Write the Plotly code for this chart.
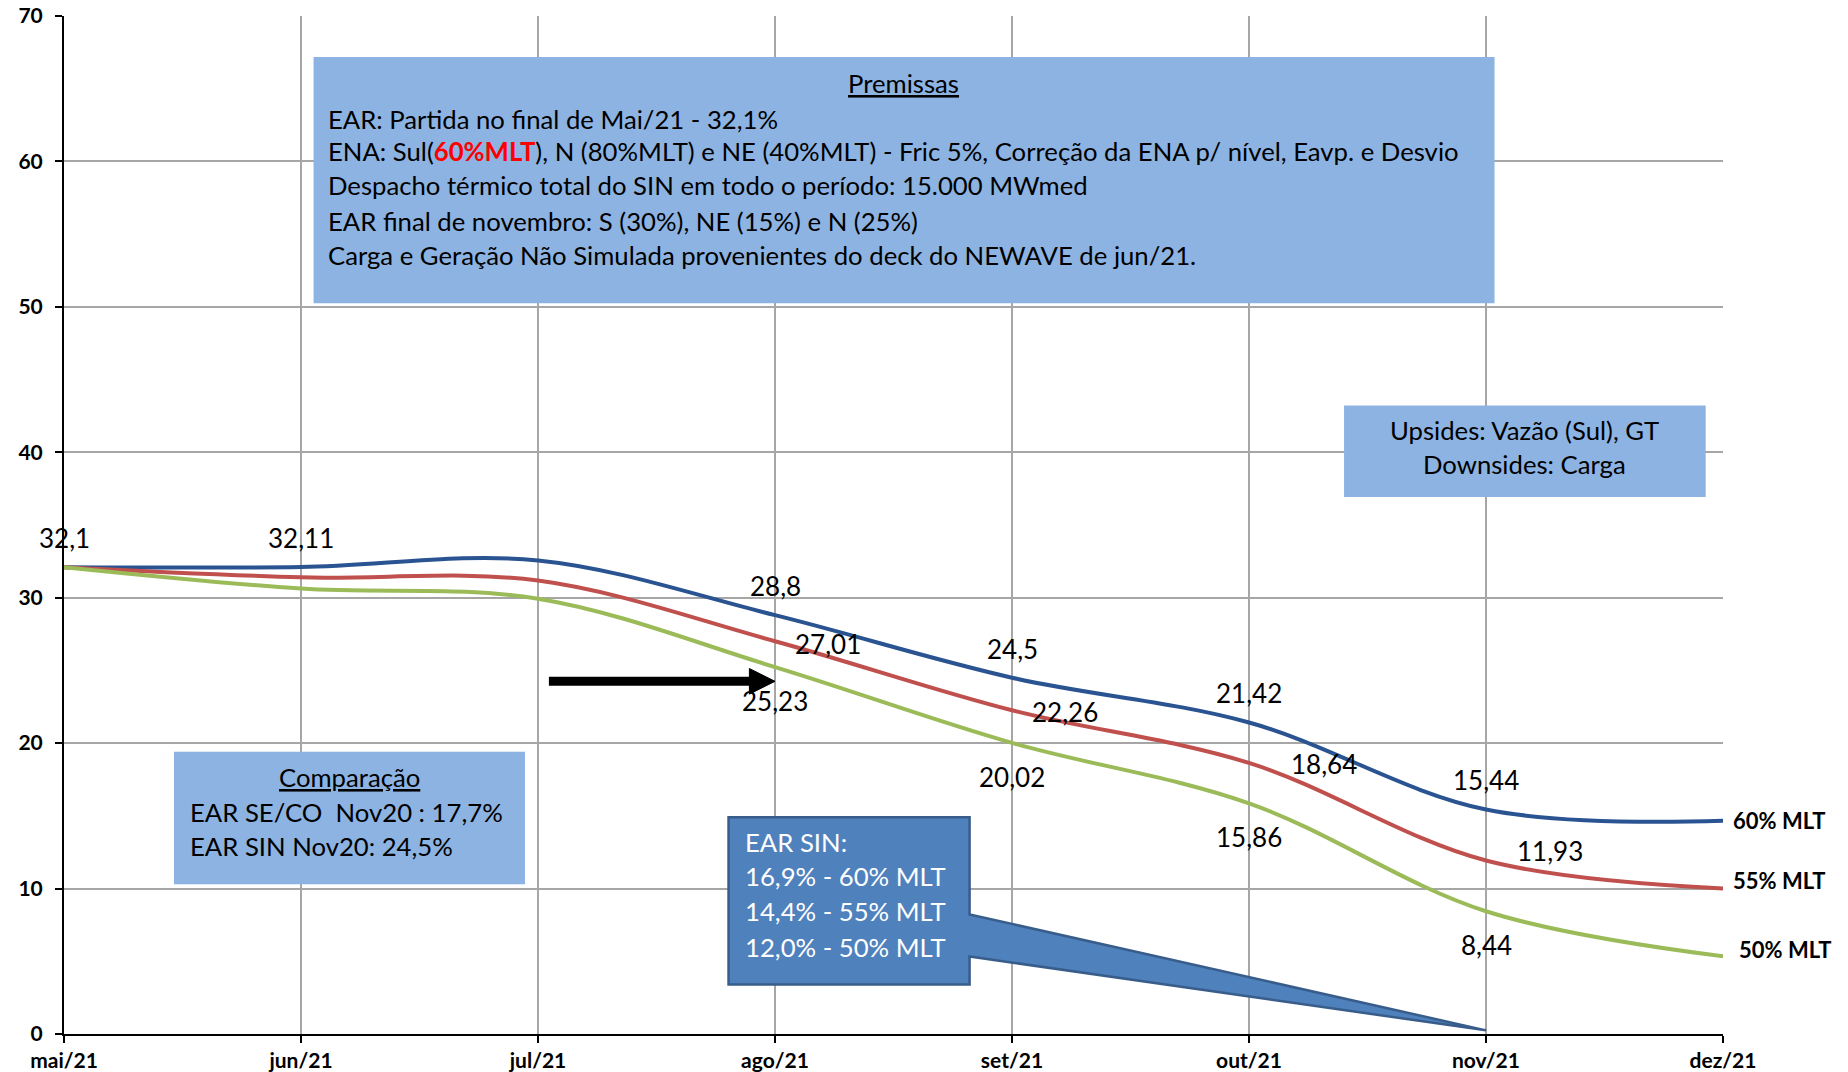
import plotly.graph_objects as go

# ---------------- data ----------------
months = ["mai/21", "jun/21", "jul/21", "ago/21", "set/21", "out/21", "nov/21", "dez/21"]
ear_60 = [32.1, 32.11, 32.56, 28.8, 24.5, 21.42, 15.44, 14.66]
ear_55 = [32.1, 31.4, 31.18, 27.01, 22.26, 18.64, 11.93, 10.01]
ear_50 = [32.1, 30.63, 29.93, 25.23, 20.02, 15.86, 8.44, 5.34]
series_names = ["60% MLT", "55% MLT", "50% MLT"]
y_ticks = [0, 10, 20, 30, 40, 50, 60, 70]

# which points carry a data label
label_idx_60 = [0, 1, 3, 4, 5, 6]
label_idx_55 = [3, 4, 5, 6]
label_idx_50 = [3, 4, 5, 6]

premissas_title = "Premissas"
premissas_lines = [
    "EAR: Partida no final de Mai/21 - 32,1%",
    "ENA: Sul(<span style='color:#FF0000'><b>60%MLT</b></span>), N (80%MLT) e NE (40%MLT) - Fric 5%, Correção da ENA p/ nível, Eavp. e Desvio",
    "Despacho térmico total do SIN em todo o período: 15.000 MWmed",
    "EAR final de novembro: S (30%), NE (15%) e N (25%)",
    "Carga e Geração Não Simulada provenientes do deck do NEWAVE de jun/21.",
]
updown_lines = ["Upsides: Vazão (Sul), GT", "Downsides: Carga"]
comp_title = "Comparação"
comp_lines = ["EAR SE/CO\u00a0 Nov20 : 17,7%", "EAR SIN Nov20: 24,5%"]
earsin_lines = ["EAR SIN:", "16,9% - 60% MLT", "14,4% - 55% MLT", "12,0% - 50% MLT"]

# ---------------- style ----------------
C60, C55, C50 = "#2A5391", "#C0504D", "#9BBB59"
BOX = "#8DB3E2"
CALL_FILL, CALL_LINE = "#4F81BD", "#385D8A"
FONT = "Lato"
FS = 25.7
FS_LBL = 26
GRID = "#A6A6A6"

x = list(range(len(months)))
fig = go.Figure()
for ys, col, name in [(ear_60, C60, series_names[0]), (ear_55, C55, series_names[1]), (ear_50, C50, series_names[2])]:
    fig.add_trace(go.Scatter(x=x, y=ys, mode="lines", name=name,
                             line=dict(color=col, width=4, shape="spline", smoothing=1),
                             cliponaxis=False, hoverinfo="skip", showlegend=False))

ann = []
def fmt(v):
    return ("%g" % v).replace(".", ",")

lbl_font = dict(family=FONT, size=FS_LBL, color="black")
for i in label_idx_60:
    ann.append(dict(x=x[i], y=ear_60[i], text=fmt(ear_60[i]), showarrow=False,
                    xanchor="center", yanchor="middle", yshift=29, font=lbl_font))
red_dx = {3: 18, 4: 18, 5: 40, 6: 29}
red_dy = {3: -3, 4: -2, 5: -1, 6: 10}
for i in label_idx_55:
    ann.append(dict(x=x[i], y=ear_55[i], text=fmt(ear_55[i]), showarrow=False,
                    xanchor="left", yanchor="middle", xshift=red_dx[i], yshift=red_dy[i], font=lbl_font))
for i in label_idx_50:
    ann.append(dict(x=x[i], y=ear_50[i], text=fmt(ear_50[i]), showarrow=False,
                    xanchor="center", yanchor="middle", yshift=-34, font=lbl_font))

# end-of-line series names
last = len(months) - 1
for ys, name, dx, dy in [(ear_60, series_names[0], 8, 0), (ear_55, series_names[1], 8, 8), (ear_50, series_names[2], 14, 7)]:
    ann.append(dict(x=x[last], y=ys[last], text="<b>%s</b>" % name, showarrow=False,
                    xanchor="left", yanchor="middle", xshift=dx, yshift=dy,
                    font=dict(family=FONT, size=22, color="black")))

shapes = []
# Premissas box
shapes.append(dict(type="rect", x0=1.053, x1=6.036, y0=50.24, y1=67.18, fillcolor=BOX, line_width=0, layer="above"))
ann.append(dict(x=3.544, y=65.41, text="<u>%s</u>" % premissas_title, showarrow=False, xanchor="center"))
for t, yy in zip(premissas_lines, [62.94, 60.70, 58.37, 55.91, 53.54]):
    ann.append(dict(x=1.105, y=yy, text=t, showarrow=False, xanchor="left"))

# Upsides box
shapes.append(dict(type="rect", x0=5.401, x1=6.927, y0=36.92, y1=43.22, fillcolor=BOX, line_width=0, layer="above"))
for t, yy in zip(updown_lines, [41.55, 39.2]):
    ann.append(dict(x=6.164, y=yy, text=t, showarrow=False, xanchor="center"))

# Comparação box
shapes.append(dict(type="rect", x0=0.464, x1=1.945, y0=10.29, y1=19.4, fillcolor=BOX, line_width=0, layer="above"))
ann.append(dict(x=1.203, y=17.69, text="<u>%s</u>" % comp_title, showarrow=False, xanchor="center"))
for t, yy in zip(comp_lines, [15.27, 12.9]):
    ann.append(dict(x=0.522, y=yy, text=t, showarrow=False, xanchor="left"))

# EAR SIN callout (box + wedge pointing to nov/21)
bx0, bx1, by0, by1 = 2.804, 3.821, 3.41, 14.9
tip_x, tip_y = 6.0, 0.25
w_top, w_bot = 8.22, 5.33
path = (f"M {bx0},{by1} L {bx1},{by1} L {bx1},{w_top} L {tip_x},{tip_y} "
        f"L {bx1},{w_bot} L {bx1},{by0} L {bx0},{by0} Z")
shapes.append(dict(type="path", path=path, fillcolor=CALL_FILL,
                   line=dict(color=CALL_LINE, width=2.5), layer="above"))
for t, yy in zip(earsin_lines, [13.22, 10.88, 8.48, 6.01]):
    ann.append(dict(x=2.865, y=yy, text=t, showarrow=False, xanchor="left",
                    font=dict(family=FONT, size=FS, color="white")))

# black arrow
ay = 24.25
shapes.append(dict(type="line", x0=2.046, x1=2.90, y0=ay, y1=ay, line=dict(color="black", width=9), layer="above"))
shapes.append(dict(type="path", path=f"M 2.892,{ay + 0.88} L 3.0,{ay} L 2.892,{ay - 0.88} Z",
                   fillcolor="black", line=dict(color="black", width=1), layer="above"))

for a in ann:
    a.setdefault("xref", "x")
    a.setdefault("yref", "y")
    a.setdefault("font", dict(family=FONT, size=FS, color="black"))

axis_common = dict(showgrid=True, gridcolor=GRID, gridwidth=1.5, zeroline=False,
                   showline=True, linecolor="black", linewidth=2, automargin=False,
                   ticks="outside", ticklen=7, tickwidth=2, tickcolor="black",
                   tickfont=dict(family=FONT, size=21, color="black", weight="bold"))

fig.update_layout(
    width=1848, height=1072,
    margin=dict(l=64, r=125, t=16, b=38, pad=0),
    plot_bgcolor="white", paper_bgcolor="white",
    xaxis=dict(range=[0, 7], tickvals=x, ticktext=months, **axis_common),
    yaxis=dict(range=[0, 70], tickvals=y_ticks, ticklabelstandoff=8, **axis_common),
    annotations=ann, shapes=shapes, showlegend=False,
    font=dict(family=FONT, size=FS, color="black"),
)

fig.write_html("out.html", config={"displayModeBar": False},
               post_script="document.body.style.margin='0';document.body.style.overflow='hidden';")
